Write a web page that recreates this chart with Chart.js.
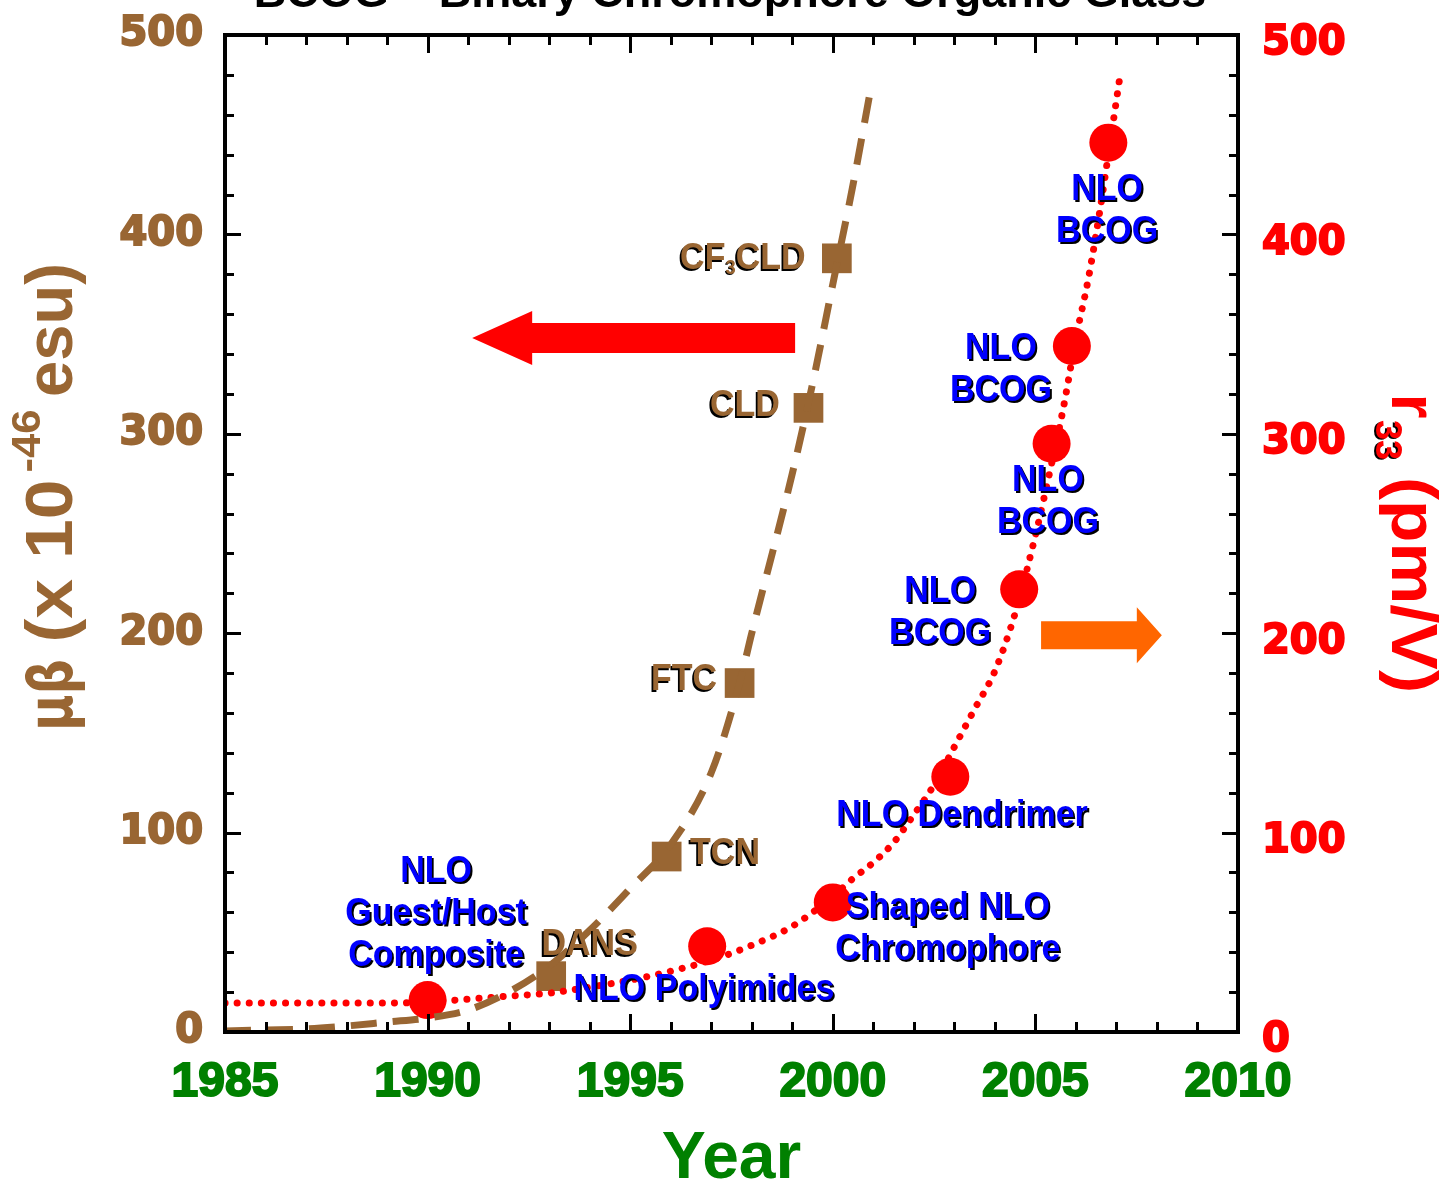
<!DOCTYPE html>
<html>
<head>
<meta charset="utf-8">
<script src="https://cdn.jsdelivr.net/npm/chart.js@4/dist/chart.umd.min.js"></script>
<style>
html,body{margin:0;padding:0;background:#ffffff;}
#wrap{width:1443px;height:1191px;position:relative;}
</style>
</head>
<body>
<div id="wrap"><canvas id="c" width="1443" height="1191"></canvas></div>
<script>
// ---------- data ----------
const xTickValues = [1985, 1990, 1995, 2000, 2005, 2010];
const yTickValues = [0, 100, 200, 300, 400, 500];

const muBetaNames  = ['DANS', 'TCN', 'FTC', 'CLD', 'CF3CLD'];
const muBetaYears  = [1993.05, 1995.9, 1997.7, 1999.4, 2000.1];
const muBetaValues = [28, 88, 175, 313, 388];

const r33Years  = [1990.0, 1996.9, 2000.0, 2002.9, 2004.6, 2005.4, 2005.9, 2006.8];
const r33Values = [16, 43, 65, 128, 222, 295, 344, 446];

const muBetaFitYears  = [1985, 1986, 1987, 1988, 1989, 1990, 1991, 1992, 1993, 1994, 1995, 1996, 1997, 1997.7, 1998, 1999, 1999.5, 2000, 2000.5, 2000.9];
const muBetaFitValues = [0.5, 1, 1.5, 3, 5, 7, 11, 20, 33, 51, 72, 94, 130, 175, 200, 280, 325, 375, 425, 469];

const r33FitYears  = [1985, 1987, 1989, 1990, 1991, 1992, 1993, 1994, 1995, 1996, 1997, 1998, 1999, 2000, 2000.5, 2001, 2001.5, 2002, 2002.5, 2003, 2003.5, 2004, 2004.5, 2005, 2005.4, 2005.7, 2006, 2006.3, 2006.6, 2006.8, 2007.1];
const r33FitValues = [14.5, 14.5, 14.5, 15, 16.5, 18, 19.5, 22.5, 26, 30.5, 36, 43.5, 53, 68, 77, 85, 95, 109, 124, 143, 162, 181, 210, 249, 285, 314, 348, 377, 413, 440, 481];

// ---------- annotation texts (anchored in data units) ----------
const noteLines  = [['NLO','Guest/Host','Composite'], ['NLO Polyimides'], ['Shaped NLO','Chromophore'], ['NLO Dendrimer'], ['NLO','BCOG'], ['NLO','BCOG'], ['NLO','BCOG'], ['NLO','BCOG']];
const noteYears  = [1990.21, 1996.82, 2002.84, 2003.19, 2002.65, 2005.31, 2004.15, 2006.77];
const noteValues = [80.2, 21, 62.2, 108.3, 220.7, 276.3, 342.5, 422.3];

const nameYears  = [1994.0, 1997.34, 1996.33, 1997.83, 1997.78];
const nameValues = [43.6, 89.3, 176.5, 314, 388];

const arrowTailYears = [1999.07, 2005.14];
const arrowTipYears  = [1991.1, 2008.12];
const arrowValues    = [348, 199];

// ---------- styles ----------
const BROWN = '#996633', RED = '#ff0000', BLUE = '#0000ff', GREEN = '#008000', ORANGE = '#ff6600';
const LFONT = '"Liberation Sans", Arial, sans-serif';
const pts = (xs, ys) => xs.map((x, i) => ({x: x, y: ys[i]}));

function shadowText(ctx, txt, x, y, color, size, sx, shOff) {
  ctx.save();
  ctx.font = 'bold ' + size + 'px ' + LFONT;
  ctx.textAlign = 'center';
  ctx.textBaseline = 'middle';
  ctx.translate(x, y);
  ctx.scale(sx, 1);
  ctx.fillStyle = '#000000';
  ctx.fillText(txt, shOff[0], shOff[1]);
  ctx.fillStyle = color;
  ctx.fillText(txt, 0, 0);
  ctx.restore();
}

// piece of rotated text fitted to a given length
function rotPiece(ctx, txt, font, along, len, base, color, angle) {
  ctx.save();
  ctx.font = font;
  const w = ctx.measureText(txt).width;
  ctx.translate(base, along);
  ctx.rotate(angle);
  ctx.scale(len / w, 1);
  ctx.textAlign = 'center';
  ctx.textBaseline = 'alphabetic';
  ctx.fillStyle = color;
  ctx.fillText(txt, 0, 0);
  ctx.restore();
}

function arrow(ctx, x0, x1, y, shaftH, headH, headL, color) {
  const dir = Math.sign(x1 - x0);
  const hb = x1 - dir * headL;
  ctx.save();
  ctx.fillStyle = color;
  ctx.beginPath();
  ctx.moveTo(x0, y - shaftH);
  ctx.lineTo(hb, y - shaftH);
  ctx.lineTo(hb, y - headH);
  ctx.lineTo(x1, y);
  ctx.lineTo(hb, y + headH);
  ctx.lineTo(hb, y + shaftH);
  ctx.lineTo(x0, y + shaftH);
  ctx.closePath();
  ctx.fill();
  ctx.restore();
}

const decor = {
  id: 'decor',
  afterDatasetsDraw(chart) {
    const ctx = chart.ctx;
    const xs = chart.scales.x, ys = chart.scales.y;
    // arrows
    for (let i = 0; i < arrowValues.length; i++) {
      const a = xs.getPixelForValue(arrowTailYears[i]);
      const b = xs.getPixelForValue(arrowTipYears[i]);
      const y = ys.getPixelForValue(arrowValues[i]);
      if (i === 0) arrow(ctx, a, b, y, 15, 27, 60, RED);
      else arrow(ctx, a, b, y, 14, 28, 25, ORANGE);
    }
    // blue notes
    for (let i = 0; i < noteLines.length; i++) {
      const x = xs.getPixelForValue(noteYears[i]);
      const y0 = ys.getPixelForValue(noteValues[i]);
      noteLines[i].forEach((t, k) => shadowText(ctx, t, x, y0 + k * 42, BLUE, 37, 0.92, [2, 2]));
    }
    // brown names
    for (let i = 0; i < muBetaNames.length; i++) {
      const x = xs.getPixelForValue(nameYears[i]);
      const y = ys.getPixelForValue(nameValues[i]);
      const n = muBetaNames[i];
      if (n === 'CF3CLD') {
        ctx.save();
        ctx.font = 'bold 37px ' + LFONT;
        const wa = ctx.measureText('CF').width * 0.92;
        const wc = ctx.measureText('CLD').width * 0.92;
        ctx.font = 'bold 20px ' + LFONT;
        const wb = ctx.measureText('3').width * 0.92;
        ctx.restore();
        const tot = wa + wb + wc;
        const left = x - tot / 2;
        shadowText(ctx, 'CF', left + wa / 2, y, BROWN, 37, 0.92, [-2, 2]);
        shadowText(ctx, '3', left + wa + wb / 2, y + 10, BROWN, 20, 0.92, [-1, 1]);
        shadowText(ctx, 'CLD', left + wa + wb + wc / 2, y, BROWN, 37, 0.92, [-2, 2]);
      } else {
        shadowText(ctx, n, x, y, BROWN, 37, 0.92, [-2, 2]);
      }
    }
  },
  afterDraw(chart) {
    const ctx = chart.ctx;
    const ca = chart.chartArea;
    const xs = chart.scales.x, ys = chart.scales.y;
    ctx.save();
    ctx.strokeStyle = '#000000';
    ctx.lineWidth = 3;
    ctx.beginPath();
    for (let v = 0; v <= 500; v += 20) {
      const y = Math.round(ys.getPixelForValue(v)) + 0.5;
      const len = v % 100 === 0 ? 16 : 9;
      ctx.moveTo(ca.left, y); ctx.lineTo(ca.left + len, y);
      ctx.moveTo(ca.right, y); ctx.lineTo(ca.right - len, y);
    }
    for (let yr = 1985; yr <= 2010; yr++) {
      const x = Math.round(xs.getPixelForValue(yr)) + 0.5;
      const len = yr % 5 === 0 ? 18 : 10;
      ctx.moveTo(x, ca.bottom); ctx.lineTo(x, ca.bottom - len);
      ctx.moveTo(x, ca.top); ctx.lineTo(x, ca.top + len);
    }
    ctx.stroke();
    ctx.lineWidth = 4;
    ctx.strokeRect(ca.left, ca.top, ca.right - ca.left, ca.bottom - ca.top);
    ctx.restore();

    // top title (cut off by the picture edge)
    ctx.save();
    ctx.font = 'bold 45px ' + LFONT;
    ctx.textAlign = 'center';
    ctx.textBaseline = 'alphabetic';
    ctx.fillStyle = '#000000';
    ctx.fillText('BCOG \u2013 Binary Chromophore Organic Glass', 730, 7);
    ctx.restore();

    // left axis title (reads bottom to top), baseline at x = 72
    const up = -Math.PI / 2;
    rotPiece(ctx, '\u03bc\u03b2', 'bold 62px "DejaVu Sans", sans-serif', 695, 72, 72, BROWN, up);
    rotPiece(ctx, '(x 10', 'bold 66px ' + LFONT, 561, 163, 72, BROWN, up);
    rotPiece(ctx, '-46', 'bold 40px ' + LFONT, 441, 63, 40, BROWN, up);
    rotPiece(ctx, 'esu)', 'bold 66px ' + LFONT, 330, 134, 72, BROWN, up);

    // right axis title (reads top to bottom), baseline at x = 1392
    const down = Math.PI / 2;
    rotPiece(ctx, 'r', 'bold 64px ' + LFONT, 406, 25, 1392, RED, down);
    ctx.save();
    ctx.shadowColor = '#000000'; ctx.shadowOffsetX = -2; ctx.shadowOffsetY = 1; ctx.shadowBlur = 0;
    rotPiece(ctx, '33', 'bold 36px ' + LFONT, 440, 40, 1376, RED, down);
    ctx.restore();
    rotPiece(ctx, '(pm/V)', 'bold 64px ' + LFONT, 585, 216, 1392, RED, down);
  }
};

const fixTicks = (vals) => function (scale) { scale.ticks = vals.map(v => ({value: v})); };
const noPad = (s) => { s.paddingTop = 0; s.paddingBottom = 0; s.paddingLeft = 0; s.paddingRight = 0; };

new Chart(document.getElementById('c'), {
  type: 'scatter',
  data: {
    datasets: [
      {
        type: 'line', label: 'mu-beta fit', yAxisID: 'y',
        data: pts(muBetaFitYears, muBetaFitValues),
        borderColor: BROWN, borderWidth: 7, borderDash: [26, 16],
        pointRadius: 0, cubicInterpolationMode: 'monotone', fill: false
      },
      {
        type: 'line', label: 'r33 fit', yAxisID: 'y2',
        data: pts(r33FitYears, r33FitValues),
        borderColor: RED, borderWidth: 7, borderDash: [0.1, 12], borderCapStyle: 'round',
        pointRadius: 0, cubicInterpolationMode: 'monotone', fill: false
      },
      {
        label: 'mu-beta', yAxisID: 'y',
        data: pts(muBetaYears, muBetaValues),
        pointStyle: 'rect', pointRadius: 21, pointHoverRadius: 21,
        backgroundColor: BROWN, borderColor: BROWN, borderWidth: 0, showLine: false
      },
      {
        label: 'r33', yAxisID: 'y2',
        data: pts(r33Years, r33Values),
        pointStyle: 'circle', pointRadius: 19, pointHoverRadius: 19,
        backgroundColor: RED, borderColor: RED, borderWidth: 0, showLine: false
      }
    ]
  },
  options: {
    responsive: false,
    animation: false,
    devicePixelRatio: 1,
    layout: {padding: {top: 35, left: 0, right: 0, bottom: 0}},
    plugins: {legend: {display: false}, tooltip: {enabled: false}, title: {display: false}},
    scales: {
      x: {
        type: 'linear', position: 'bottom', min: 1985, max: 2010,
        afterBuildTicks: fixTicks(xTickValues),
        afterFit: (s) => { s.height = 159; noPad(s); },
        grid: {display: false, drawTicks: false},
        border: {display: false},
        ticks: {color: GREEN, padding: 22, maxRotation: 0, callback: (v) => String(v),
                textStrokeColor: GREEN, textStrokeWidth: 2,
                font: {family: LFONT, size: 48, weight: 'bold'}},
        title: {display: true, text: 'Year', color: GREEN, padding: 0,
                font: {family: LFONT, size: 66, weight: 'bold', lineHeight: 0.95}}
      },
      y: {
        type: 'linear', position: 'left', min: 0, max: 500,
        afterBuildTicks: fixTicks(yTickValues),
        afterFit: (s) => { s.width = 225; noPad(s); },
        grid: {display: false, drawTicks: false},
        border: {display: false},
        ticks: {color: BROWN, padding: 22, callback: (v) => String(v),
                textStrokeColor: BROWN, textStrokeWidth: 2,
                font: {family: '"DejaVu Sans", sans-serif', size: 40, weight: 'bold'}}
      },
      y2: {
        type: 'linear', position: 'right', min: 0, max: 500,
        afterBuildTicks: fixTicks(yTickValues),
        afterFit: (s) => { s.width = 205; noPad(s); },
        grid: {display: false, drawTicks: false},
        border: {display: false},
        ticks: {color: RED, padding: 24, labelOffset: 9, callback: (v) => String(v),
                textStrokeColor: RED, textStrokeWidth: 2,
                font: {family: '"DejaVu Sans", sans-serif', size: 40, weight: 'bold'}}
      }
    }
  },
  plugins: [decor]
});
</script>
</body>
</html>
